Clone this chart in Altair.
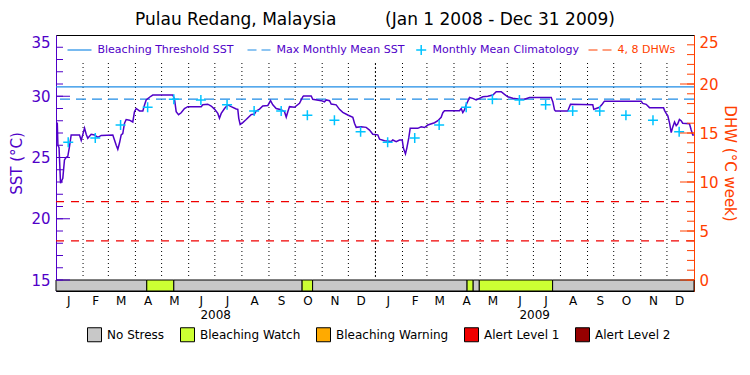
import altair as alt
import pandas as pd

# ---------------- data ----------------
# daily SST trace (day offset from 2008-01-01, SST in deg C)
sst_day = [0, 1.5, 2.2, 3.5, 5.2, 7.8, 9.7, 11.5, 13.5, 15.5, 17.4, 26.9, 28.9, 32.7, 34.6, 36.4,
           40.3, 44.1, 47.9, 51.8, 65.1, 67.0, 69.0, 70.8, 72.8, 74.7, 76.5, 78.5, 80.4, 84.2,
           88.0, 89.9, 91.9, 95.7, 99.5, 101.4, 103.3, 107.1, 110.9, 133.8, 135.8, 137.7, 140.4,
           143.4, 147.2, 151.0, 166.4, 168.2, 173.9, 177.8, 181.6, 185.4, 187.3, 189.3, 193.1,
           196.8, 200.7, 206.5, 208.3, 209.4, 211.0, 214.0, 217.9, 223.6, 227.4, 229.4, 233.2,
           236.9, 242.7, 245.8, 248.4, 252.3, 258.0, 261.8, 263.8, 265.6, 267.5, 273.3, 279.0,
           282.8, 283.6, 292.4, 294.2, 303.9, 307.6, 309.6, 313.4, 315.3, 321.0, 324.8, 328.6,
           334.3, 340.1, 342.0, 344.0, 349.7, 355.4, 359.2, 363.0, 368.7, 370.7, 376.4, 384.1,
           385.9, 389.8, 393.6, 396.7, 398.1, 400.4, 401.9, 404.2, 405.8, 414.5, 418.4, 422.2,
           426.0, 433.7, 437.5, 441.3, 443.2, 445.1, 462.3, 464.3, 466.1, 468.0, 469.9, 473.8,
           477.5, 481.4, 485.2, 489.0, 494.7, 500.5, 504.4, 510.1, 513.9, 517.6, 523.4, 531.1,
           536.8, 542.5, 567.4, 569.2, 571.2, 572.3, 586.4, 587.5, 589.5, 615.0, 616.2, 618.9,
           622.7, 625.8, 628.4, 670.5, 672.3, 676.2, 680.0, 696.1, 697.2, 699.1, 701.0, 703.0,
           704.9, 706.7, 708.7, 710.6, 712.4, 714.3, 716.3, 718.1, 725.8, 727.8, 729.6, 730.9]
sst_val = [27.8, 27.8, 26.0, 25.8, 22.9, 23.3, 24.8, 25.0, 25.1, 25.9, 26.84, 26.84, 26.4, 27.4,
           26.9, 26.57, 26.9, 26.84, 26.65, 26.8, 26.84, 26.43, 26.0, 25.67, 26.2, 26.84, 26.95,
           27.8, 28.1, 28.05, 27.9, 28.74, 29.0, 28.8, 28.8, 29.29, 29.7, 29.92, 30.1, 30.1,
           29.75, 28.74, 28.5, 28.65, 29.0, 29.15, 29.15, 29.3, 29.35, 29.2, 28.95, 28.6, 28.2,
           28.6, 29.0, 29.3, 29.15, 28.96, 28.93, 28.2, 27.7, 27.85, 28.1, 28.5, 28.55, 28.8,
           28.95, 29.2, 29.25, 29.64, 29.3, 29.0, 28.9, 28.74, 28.3, 28.74, 29.15, 29.1, 29.42,
           29.96, 30.02, 30.02, 29.75, 29.64, 29.55, 29.7, 29.64, 29.37, 29.3, 28.93, 28.69,
           28.47, 28.28, 27.8, 27.46, 27.5, 27.46, 27.24, 26.9, 26.85, 26.49, 26.37, 26.3, 26.43,
           26.3, 26.43, 26.43, 25.75, 25.29, 25.75, 26.6, 27.38, 27.38, 27.5, 27.45, 27.65, 27.84,
           28.0, 28.28, 28.66, 28.82, 28.82, 29.0, 28.66, 28.88, 29.29, 29.9, 29.83, 29.7, 29.83,
           29.96, 30.0, 30.1, 30.37, 30.37, 30.15, 29.96, 29.83, 29.75, 29.75, 29.9, 29.9, 29.56,
           28.88, 28.8, 28.8, 29.0, 29.34, 29.3, 28.93, 29.0, 29.1, 29.35, 29.6, 29.6, 29.42,
           29.34, 29.07, 29.07, 28.85, 28.6, 28.4, 27.8, 27.03, 27.5, 27.9, 27.6, 27.75, 28.1,
           28.0, 27.8, 27.75, 27.24, 26.84, 26.84]

clim_values = [26.25, 26.6, 27.65, 29.1, 29.76, 29.7, 29.3, 28.8, 28.8, 28.45, 28.05, 27.1]
clim_years = [2008, 2009]

mmm_sst = 29.76
threshold_sst = 30.76
dhw_levels = [4, 8]

stress_start = ["2008-01-01", "2008-04-14", "2008-05-15", "2008-10-09", "2008-10-21",
                "2009-04-16", "2009-04-23", "2009-04-30", "2009-07-23"]
stress_end = ["2008-04-14", "2008-05-15", "2008-10-09", "2008-10-21", "2009-04-16",
              "2009-04-23", "2009-04-30", "2009-07-23", "2010-01-01"]
stress_level = ["No Stress", "Bleaching Watch", "No Stress", "Bleaching Watch", "No Stress",
                "Bleaching Watch", "No Stress", "Bleaching Watch", "No Stress"]
levels = ["No Stress", "Bleaching Watch", "Bleaching Warning", "Alert Level 1", "Alert Level 2"]
level_colors = ["#c8c8c8", "#ccff33", "#ffaa00", "#f00000", "#960000"]

years = ["2008", "2009"]

# ---------------- styling / layout ----------------
FONT = "DejaVu Sans"
PURPLE = "#5000c8"
BLUE = "#1e8ce6"
CYAN = "#00c3ff"
ORANGE = "#ff4000"
RED = "#f00000"
W, H = 638, 256
STRIP = 11
SST_MIN = 15 - STRIP / ((H - STRIP) / 20)
DHW_MIN = -STRIP / ((H - STRIP) / 25)
CROSS = "M-1,0H1M0,-1V1"
MINOR, MAJOR = 7, 14

start = pd.Timestamp("2008-01-01")


def iso(ts):
    return pd.Timestamp(ts).strftime("%Y-%m-%dT%H:%M:%SZ")


sst_df = pd.DataFrame({"date": [iso(start + pd.Timedelta(days=d)) for d in sst_day],
                       "sst": sst_val})
clim_df = pd.DataFrame({
    "date": [iso(pd.Timestamp(year=y, month=m + 1, day=15)) for y in clim_years for m in range(12)],
    "clim": [v for _ in clim_years for v in clim_values]})
stress_df = pd.DataFrame({"start": [iso(s) for s in stress_start],
                          "end": [iso(e) for e in stress_end],
                          "level": stress_level})
month_starts = [d for d in pd.date_range("2008-02-01", "2009-12-01", freq="MS")
                if d != pd.Timestamp("2009-01-01")]
month_df = pd.DataFrame({"date": [iso(d) for d in month_starts]})
yearline_df = pd.DataFrame({"date": [iso("2009-01-01")]})
year_df = pd.DataFrame({"year": years,
                        "date": [iso(pd.Timestamp(f"{y}-01-01") +
                                     (pd.Timestamp(f"{int(y)+1}-01-01") - pd.Timestamp(f"{y}-01-01")) / 2)
                                 for y in years]})

xscale = alt.Scale(type="utc", nice=False,
                   domain=[alt.DateTime(year=2008, month=1, date=1, utc=True),
                           alt.DateTime(year=2010, month=1, date=1, utc=True)])
xaxis = alt.Axis(values=[alt.DateTime(year=y, month=m, date=15, utc=True)
                         for y in (2008, 2009) for m in range(1, 13)],
                 labelExpr="substring(utcFormat(datum.value, '%b'), 0, 1)",
                 title=None, ticks=False, tickSize=0, domain=False, grid=False,
                 labelFontSize=12, labelFont=FONT, labelColor="black", labelPadding=4,
                 labelAngle=0, labelFlush=False, labelOverlap=False)

sst_scale = alt.Scale(domain=[SST_MIN, 35], nice=False, zero=False)
dhw_scale = alt.Scale(domain=[DHW_MIN, 25], nice=False, zero=False)

sst_axis = alt.Axis(orient="left", values=[15, 20, 25, 30, 35], title="SST (°C)",
                    titleColor=PURPLE, titleFontSize=15, titleFont=FONT, titleFontWeight="normal",
                    titlePadding=6, labelColor=PURPLE, labelFontSize=15, labelFont=FONT,
                    labelPadding=6, labelFlush=True, ticks=False, tickSize=0,
                    domainColor=PURPLE, domainWidth=1, grid=False)
dhw_axis = alt.Axis(orient="right", values=[0, 5, 10, 15, 20, 25], title="DHW (°C week)",
                    titleColor=ORANGE, titleFontSize=15, titleFont=FONT, titleFontWeight="normal",
                    titlePadding=3, labelColor=ORANGE, labelFontSize=15, labelFont=FONT,
                    labelPadding=5, labelFlush=True, ticks=False, tickSize=0,
                    domainColor=ORANGE, domainWidth=1, grid=False)


def X(f):
    return alt.X(f"{f}:T", scale=xscale, axis=xaxis)


def Y(f, scale, axis):
    return alt.Y(f"{f}:Q", scale=scale, axis=axis)


one = pd.DataFrame({"k": [0]})

month_rules = alt.Chart(month_df).mark_rule(color="black", strokeDash=[1, 3], strokeWidth=1).encode(
    x=X("date"), y=alt.value(28), y2=alt.value(H - STRIP - 2))
year_rule = alt.Chart(yearline_df).mark_rule(color="black", strokeDash=[2, 2], strokeWidth=1).encode(
    x=X("date"), y=alt.value(28), y2=alt.value(H - STRIP - 2))

thr = alt.Chart(pd.DataFrame({"v": [threshold_sst]})).mark_rule(color=BLUE, strokeWidth=1.2).encode(
    y=Y("v", sst_scale, sst_axis))
mmm = alt.Chart(pd.DataFrame({"v": [mmm_sst]})).mark_rule(color=BLUE, strokeWidth=1.2,
                                                          strokeDash=[10, 6]).encode(
    y=Y("v", sst_scale, sst_axis))

strip = alt.Chart(stress_df).mark_rect(stroke="black", strokeWidth=1).encode(
    x=X("start"), x2="end:T", y=alt.value(H - STRIP), y2=alt.value(H),
    color=alt.Color("level:N", scale=alt.Scale(domain=levels, range=level_colors),
                    legend=alt.Legend(orient="none", legendX=31, legendY=292, direction="horizontal",
                                      columns=5, columnPadding=13, symbolType="square",
                                      symbolSize=196, symbolStrokeColor="black",
                                      symbolStrokeWidth=1, symbolOpacity=1, labelFontSize=12,
                                      labelFont=FONT, labelColor="black", labelOffset=5,
                                      title=None)))

sst_line = alt.Chart(sst_df).mark_line(color=PURPLE, strokeWidth=1.5).encode(
    x=X("date"), y=Y("sst", sst_scale, sst_axis))
clim_pts = alt.Chart(clim_df).mark_point(shape=CROSS, filled=False, color=CYAN, size=100,
                                         strokeWidth=1.5, opacity=1).encode(
    x=X("date"), y=Y("clim", sst_scale, sst_axis))

# inner axis ticks (short horizontal segments inside the frame)
sst_tick_df = pd.DataFrame({"v": [float(v) for v in range(15, 35)]})
left_minor = alt.Chart(sst_tick_df).mark_rule(color=PURPLE, strokeWidth=1).encode(
    x=alt.value(0), x2=alt.value(MINOR), y=Y("v", sst_scale, sst_axis), y2="v:Q")
left_major = alt.Chart(sst_tick_df[sst_tick_df.v % 5 == 0]).mark_rule(color=PURPLE, strokeWidth=1).encode(
    x=alt.value(0), x2=alt.value(MAJOR), y=Y("v", sst_scale, sst_axis), y2="v:Q")

year_text = alt.Chart(year_df).mark_text(font=FONT, fontSize=12, color="black", baseline="middle").encode(
    x=X("date"), y=alt.value(H + 23.5), text="year:N")

# top legend
LY = 15


def leg_rule(x1, x2, color, dash=None):
    kw = dict(color=color, strokeWidth=1.2)
    if dash:
        kw["strokeDash"] = dash
    return alt.Chart(one).mark_rule(**kw).encode(x=alt.value(x1), x2=alt.value(x2), y=alt.value(LY))


def leg_text(x, label, color):
    return alt.Chart(one).mark_text(text=label, font=FONT, fontSize=11, color=color, align="left",
                                    baseline="middle").encode(x=alt.value(x), y=alt.value(LY))


legend_layers = [
    leg_rule(11.5, 35.5, BLUE), leg_text(41.5, "Bleaching Threshold SST", PURPLE),
    leg_rule(191.5, 215.5, BLUE, [9, 5]), leg_text(220.5, "Max Monthly Mean SST", PURPLE),
    alt.Chart(one).mark_point(shape=CROSS, filled=False, color=CYAN, size=100, strokeWidth=1.5,
                              opacity=1).encode(x=alt.value(365.2), y=alt.value(LY)),
    leg_text(376.5, "Monthly Mean Climatology", PURPLE),
    leg_rule(532.5, 555.5, ORANGE, [9, 5]), leg_text(561.5, "4, 8 DHWs", ORANGE),
]

dhw_df = pd.DataFrame({"v": dhw_levels})
dhw_rules = alt.Chart(dhw_df).mark_rule(color=RED, strokeWidth=1.2, strokeDash=[8, 7]).encode(
    y=Y("v", dhw_scale, dhw_axis))
dhw_tick_df = pd.DataFrame({"v": [float(v) for v in range(0, 25)]})
right_minor = alt.Chart(dhw_tick_df).mark_rule(color=ORANGE, strokeWidth=1).encode(
    x=alt.value(W - MINOR), x2=alt.value(W), y=Y("v", dhw_scale, dhw_axis), y2="v:Q")
right_major = alt.Chart(dhw_tick_df[dhw_tick_df.v % 5 == 0]).mark_rule(color=ORANGE, strokeWidth=1).encode(
    x=alt.value(W - MAJOR), x2=alt.value(W), y=Y("v", dhw_scale, dhw_axis), y2="v:Q")

group_sst = alt.layer(month_rules, year_rule, thr, mmm, strip, sst_line, clim_pts,
                      left_minor, left_major, year_text, *legend_layers)
group_dhw = alt.layer(dhw_rules, right_minor, right_major)

title_text = "Pulau Redang, Malaysia" + "\u00a0" * 9 + "(Jan 1 2008 - Dec 31 2009)"

chart = alt.layer(group_sst, group_dhw).resolve_scale(y="independent").properties(
    width=W, height=H,
    title=alt.TitleParams(text=title_text, fontSize=17, font=FONT, fontWeight="normal",
                          color="black", anchor="middle", offset=6),
    padding={"left": 48, "top": 27, "right": 45, "bottom": 60},
    autosize=alt.AutoSizeParams(type="none"),
).configure_view(stroke="black", strokeWidth=1)

chart.save("out.html", embed_options={"renderer": "svg", "actions": False})
